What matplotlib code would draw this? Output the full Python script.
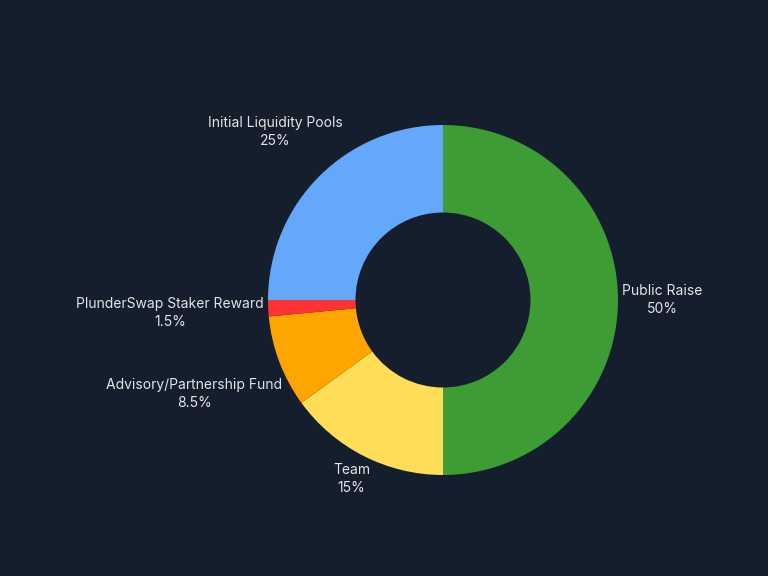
import numpy as np
import matplotlib
matplotlib.use("Agg")
import matplotlib.pyplot as plt

labels = ["Public Raise", "Team", "Advisory/Partnership Fund",
          "PlunderSwap Staker Reward", "Initial Liquidity Pools"]
values = [50, 15, 8.5, 1.5, 25]
pct_labels = ["50%", "15%", "8.5%", "1.5%", "25%"]

colors = ["#3e9c35", "#ffdd57", "#ffa500", "#ff3333", "#63a8fb"]
label_radius = [1.254, 1.15, 1.519, 1.561, 1.356]

bg = "#141e2d"
fig = plt.figure(figsize=(7.68, 5.76), dpi=100, facecolor=bg)
ax = fig.add_axes([0, 0, 1, 1])
ax.set_facecolor(bg)

wedges, _ = ax.pie(values, colors=colors, startangle=90, counterclock=False,
                   radius=1.0, wedgeprops=dict(width=0.5, linewidth=0))

total = sum(values)
for w, lab, pct, r in zip(wedges, labels, pct_labels, label_radius):
    ang = np.deg2rad((w.theta1 + w.theta2) / 2)
    ax.text(r * np.cos(ang), r * np.sin(ang), f"{lab}\n{pct}",
            ha="center", va="center", multialignment="center",
            color="#e4e4e4", fontsize=10, family=["Inter", "DejaVu Sans"],
            linespacing=1.35)

ax.set_xlim(-443 / 175, (768 - 443) / 175)
ax.set_ylim(-(576 - 300) / 175, 300 / 175)
ax.set_aspect("auto")
ax.axis("off")

fig.savefig("out.png", dpi=100, facecolor=bg)
